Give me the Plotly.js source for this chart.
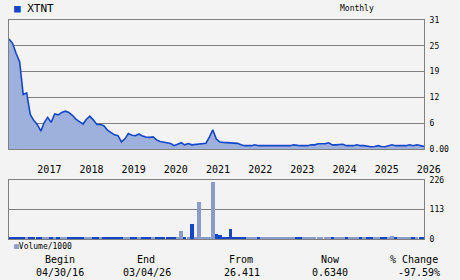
<!DOCTYPE html>
<html><head><meta charset="utf-8">
<script src="https://cdn.plot.ly/plotly-3.0.1.min.js"></script>
<style>html,body{margin:0;padding:0;background:#f3f3f3}</style>
</head><body><div id="chart" style="width:460px;height:280px"></div>
<script>
const symbol = 'XTNT';
const startYear = 2016, startMonthIdx = 3; // April 2016
const beginDate = '2016-04-30';
const endDate = '2026-03-04';
const price = [
  26.4, 25.4, 23.0, 21.0, 13.1, 13.5, 8.3, 6.9, 5.9, 4.3,
  6.3, 7.6, 6.4, 8.4, 8.2, 8.8, 9.1, 8.8, 8.1, 7.2,
  6.6, 6.0, 7.1, 7.9, 7.0, 5.9, 5.9, 5.6, 4.5, 3.9,
  3.4, 3.2, 1.7, 2.5, 3.7, 3.3, 3.2, 3.6, 3.1, 2.9,
  2.8, 2.9, 2.2, 1.8, 1.6, 1.5, 1.3, 0.8, 1.2, 1.5,
  1.0, 1.3, 1.0, 1.1, 1.3, 1.3, 1.4, 2.9, 4.6, 2.4,
  1.7, 1.6, 1.55, 1.45, 1.4, 1.35, 1.0, 0.8, 0.8, 0.8,
  1.0, 0.8, 0.8, 0.8, 0.8, 0.8, 0.8, 0.8, 0.8, 0.8,
  0.8, 1.0, 0.85, 0.8, 0.8, 0.8, 1.0, 1.0, 1.25, 1.25,
  1.3, 1.5, 1.0, 1.0, 1.15, 1.15, 0.8, 0.8, 0.8, 1.0,
  0.8, 0.8, 0.6, 0.55, 0.6, 0.8, 0.6, 0.55, 0.8, 1.0,
  0.8, 0.8, 0.8, 0.8, 1.0, 0.8, 1.0, 0.8, 0.7, 0.634
];
const volume = [
  7, 7, 7, 7, 7, 6, 7, 7, 7, 7,
  6, 6, 7, 6, 7, 6, 6, 7, 7, 7,
  7, 7, 6, 6, 7, 7, 7, 7, 7, 7,
  7, 7, 7, 6, 6, 7, 6, 6, 7, 7,
  6, 6, 7, 7, 7, 7, 7, 7, 6, 32,
  7, 6, 56, 6, 140, 6, 6, 7, 218, 21,
  17, 7, 7, 40, 7, 7, 7, 7, 7, 7,
  6, 7, 7, 7, 7, 7, 7, 7, 7, 7,
  7, 6, 7, 7, 7, 7, 6, 6, 6, 6,
  6, 6, 7, 7, 6, 6, 7, 7, 7, 6,
  7, 7, 7, 7, 6, 6, 7, 7, 6, 10,
  7, 7, 7, 7, 9, 7, 6, 7, 7, 7
];
const years = ['2017','2018','2019','2020','2021','2022','2023','2024','2025','2026'];
const priceTickVals = [0, 6.2, 12.4, 18.6, 24.8, 31];
const priceTickText = ['0.00', '6', '12', '19', '25', '31'];
const volTickVals = [0, 113, 226];
const volTickText = ['0', '113', '226'];
const statHeaders = ['Begin', 'End', 'From', 'Now', '% Change'];
const statValues = ['04/30/16', '03/04/26', '26.411', '0.6340', '-97.59%'];

// month-end dates for each monthly point, last point is the end date
function pad(n){return (n<10?'0':'')+n;}
const dates = price.map((_, i) => {
  if (i === price.length - 1) return endDate;
  const d = new Date(Date.UTC(startYear, startMonthIdx + i + 1, 0));
  return d.getUTCFullYear() + '-' + pad(d.getUTCMonth()+1) + '-' + pad(d.getUTCDate());
});

const DARK = '#1446c8', LIGHT = '#8a9cc9', GRID = '#808080';
const barColors = price.map((p, i) => (i > 0 && p >= price[i-1]) ? LIGHT : DARK);

const L = 9, R = 424, T = 20, B = 239;
const W = R - L, H = B - T;
const px = x => (x - L) / W;
const py = y => (B - y) / H;

const mono = 'DejaVu Sans Mono, monospace';

const traces = [
  {
    x: dates, y: price, type: 'scatter', mode: 'lines',
    fill: 'tozeroy', fillcolor: '#9eb0dc',
    line: {color: DARK, width: 1.6},
    xaxis: 'x', yaxis: 'y', hoverinfo: 'skip'
  },
  {
    x: dates, y: volume, type: 'bar',
    width: dates.map(() => 30.4 * 86400000),
    marker: {color: barColors, line: {width: 0}},
    xaxis: 'x2', yaxis: 'y2', hoverinfo: 'skip'
  }
];

const annotations = [];
const hdrX = [60, 146, 241, 330, 414];
const valX = [60, 147, 242, 330, 419];
statHeaders.forEach((h, i) => annotations.push({
  text: h, xref: 'paper', yref: 'paper', x: px(hdrX[i]), y: py(259),
  showarrow: false, xanchor: 'center', yanchor: 'middle',
  font: {family: mono, size: 10, color: '#000'}
}));
statValues.forEach((v, i) => annotations.push({
  text: v, xref: 'paper', yref: 'paper', x: px(valX[i]), y: py(272),
  showarrow: false, xanchor: 'center', yanchor: 'middle',
  font: {family: mono, size: 10, color: '#000'}
}));
annotations.push({
  text: '<span style="color:' + DARK + '">■</span> ' + symbol,
  xref: 'paper', yref: 'paper', x: px(12), y: py(9),
  showarrow: false, xanchor: 'left', yanchor: 'middle',
  font: {family: mono, size: 11, color: '#000'}
});
annotations.push({
  text: 'Monthly', xref: 'paper', yref: 'paper', x: px(357), y: py(9),
  showarrow: false, xanchor: 'center', yanchor: 'middle',
  font: {family: mono, size: 8, color: '#000'}
});
annotations.push({
  text: '<span style="color:' + LIGHT + '">■</span>Volume/1000',
  xref: 'paper', yref: 'paper', x: px(12), y: py(246),
  showarrow: false, xanchor: 'left', yanchor: 'middle',
  font: {family: mono, size: 8, color: '#000'}
});

const xRange = [beginDate, endDate];
const layout = {
  width: 460, height: 280,
  margin: {l: L, r: 460 - R, t: T, b: 280 - B, pad: 0},
  paper_bgcolor: '#f3f3f3', plot_bgcolor: '#f3f3f3',
  showlegend: false,
  bargap: 0,
  xaxis: {
    type: 'date', range: xRange, anchor: 'y',
    showgrid: false, showticklabels: false, ticks: '',
    showline: true, mirror: true, linecolor: GRID, linewidth: 1, zeroline: false
  },
  yaxis: {
    domain: [py(149), 1], range: [0, 31], side: 'right', anchor: 'x',
    tickvals: priceTickVals, ticktext: priceTickText,
    showgrid: true, gridcolor: GRID, gridwidth: 1, zeroline: false,
    showline: true, mirror: true, linecolor: GRID, linewidth: 1,
    ticks: '', ticklabelstandoff: 3,
    tickfont: {family: mono, size: 8, color: '#000'}
  },
  xaxis2: {
    type: 'date', range: xRange, anchor: 'y2', side: 'top',
    tickvals: years.map(y => y + '-01-01'), ticktext: years,
    showgrid: false, ticks: '', ticklabelshift: 12, ticklabelstandoff: 2,
    showline: true, mirror: true, linecolor: GRID, linewidth: 1, zeroline: false,
    tickfont: {family: mono, size: 10, color: '#000'}
  },
  yaxis2: {
    domain: [0, py(180)], range: [0, 226], side: 'right', anchor: 'x2',
    tickvals: volTickVals, ticktext: volTickText,
    showgrid: true, gridcolor: GRID, gridwidth: 1, zeroline: false,
    showline: true, mirror: true, linecolor: GRID, linewidth: 1,
    ticks: '', ticklabelstandoff: 3,
    tickfont: {family: mono, size: 8, color: '#000'}
  },
  annotations: annotations
};

Plotly.newPlot('chart', traces, layout, {staticPlot: true, displayModeBar: false});
</script>
</body></html>
